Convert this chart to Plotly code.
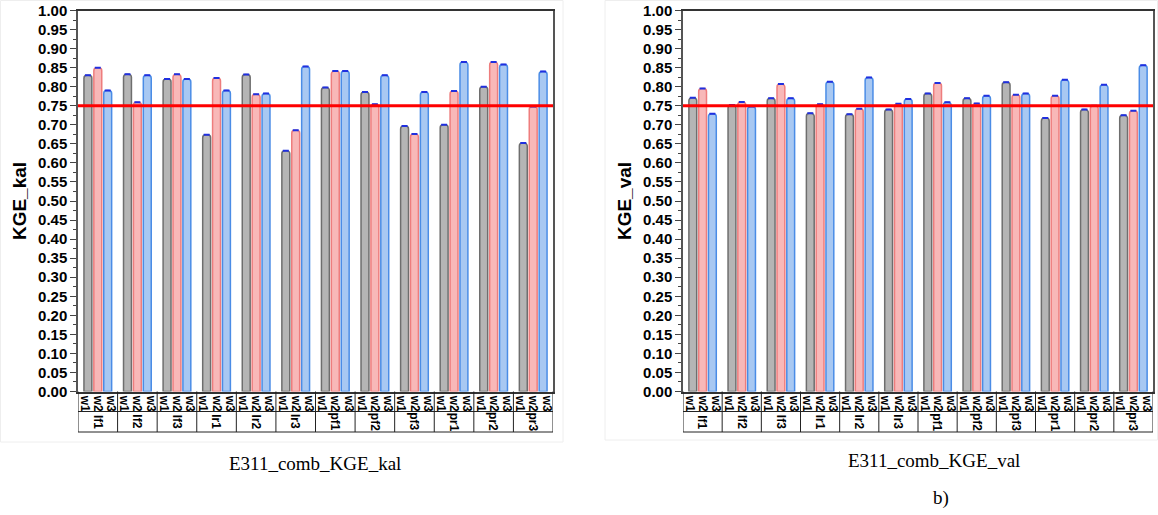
import plotly.graph_objects as go

# KGE values per station group and weighting scheme
groups = ["lf1", "lf2", "lf3", "lr1", "lr2", "lr3", "pf1", "pf2", "pf3", "pr1", "pr2", "pr3"]
weights = ["w1", "w2", "w3"]

kal_w1 = [0.830, 0.833, 0.820, 0.674, 0.832, 0.632, 0.798, 0.786, 0.697, 0.700, 0.800, 0.652]
kal_w2 = [0.850, 0.759, 0.833, 0.823, 0.780, 0.686, 0.841, 0.754, 0.676, 0.789, 0.865, 0.748]
kal_w3 = [0.790, 0.830, 0.820, 0.790, 0.782, 0.853, 0.841, 0.830, 0.786, 0.865, 0.858, 0.840]

val_w1 = [0.771, 0.752, 0.770, 0.730, 0.728, 0.740, 0.782, 0.770, 0.812, 0.718, 0.740, 0.725]
val_w2 = [0.795, 0.760, 0.807, 0.754, 0.742, 0.755, 0.810, 0.756, 0.779, 0.776, 0.750, 0.737]
val_w3 = [0.729, 0.748, 0.770, 0.813, 0.824, 0.768, 0.759, 0.776, 0.782, 0.818, 0.805, 0.856]

threshold = 0.75

W, H = 1158, 515
FONT = "Liberation Sans, Arial, sans-serif"
SERIF = "Liberation Serif, Times New Roman, serif"

fills = ["#b5b5b5", "#f8b8b8", "#a8c8f2"]
edges = ["#6e6e6e", "#ee7d7d", "#4a8ce6"]


def py(pix):
    return 1 - pix / H


def px(pix):
    return pix / W


fig = go.Figure()

panels = [
    dict(series=[kal_w1, kal_w2, kal_w3], x="x", y="y",
         caption="E311_comb_KGE_kal", cap_x=315, cap_y=463),
    dict(series=[val_w1, val_w2, val_w3], x="x2", y="y2",
         caption="E311_comb_KGE_val", cap_x=934, cap_y=460),
]

top_pix, axis_pix, row_pix, bot_pix = 10.5, 391.5, 411.5, 432
ng = len(groups)
# weight labels sit in three equal sub-cells of each group cell
tickvals, ticktext = [], []
for g in range(ng):
    for k in range(3):
        tickvals.append(4 * g + (2 * k + 1) * 4 / 6)
        ticktext.append(weights[k])

shapes, annotations = [], []
for p in panels:
    for k, vals in enumerate(p["series"]):
        xs = [4 * g + 1 + k for g in range(ng)]
        fig.add_trace(go.Bar(
            x=xs, y=vals, width=0.8, xaxis=p["x"], yaxis=p["y"],
            marker=dict(color=fills[k], line=dict(color=edges[k], width=1.5)),
            error_y=dict(type="data", array=[0] * ng, visible=True,
                         color="#1f2fe0", thickness=2, width=3),
            showlegend=False, name=weights[k],
        ))
    xr = p["x"]
    # threshold line
    shapes.append(dict(type="line", xref=f"{xr} domain", yref=p["y"],
                       x0=0, x1=1, y0=threshold, y1=threshold,
                       line=dict(color="#ff0000", width=3), layer="above"))
    # category table below the axis
    for yy in (row_pix, bot_pix):
        shapes.append(dict(type="line", xref=xr, yref="paper", x0=0, x1=4 * ng,
                           y0=py(yy), y1=py(yy), line=dict(color="#222", width=1)))
    for g in range(ng + 1):
        shapes.append(dict(type="line", xref=xr, yref="paper", x0=4 * g, x1=4 * g,
                           y0=py(axis_pix), y1=py(bot_pix), line=dict(color="#222", width=1)))
    for g, name in enumerate(groups):
        annotations.append(dict(x=4 * g + 2, y=py((row_pix + bot_pix) / 2), xref=xr, yref="paper",
                                xanchor="center", yanchor="middle",
                                text=name, textangle=90, showarrow=False,
                                font=dict(family=FONT, size=12, color="#000", weight="bold")))
    annotations.append(dict(x=px(p["cap_x"]), y=py(p["cap_y"]), xref="paper", yref="paper",
                            xanchor="center", yanchor="middle",
                            text=p["caption"], showarrow=False,
                            font=dict(family=SERIF, size=19, color="#000")))

# faint frame around each panel
shapes.append(dict(type="rect", xref="paper", yref="paper", x0=px(0.5), x1=px(563), y0=py(442), y1=py(0.5),
                   line=dict(color="#eeeeee", width=1), layer="below"))
shapes.append(dict(type="rect", xref="paper", yref="paper", x0=px(605), x1=px(1157.5), y0=py(440), y1=py(0.5),
                   line=dict(color="#eeeeee", width=1), layer="below"))

annotations.append(dict(x=px(941), y=py(498), xref="paper", yref="paper", text="b)", showarrow=False,
                        xanchor="center", yanchor="middle",
                        font=dict(family=SERIF, size=19, color="#000")))

yaxis_common = dict(
    range=[0, 1], dtick=0.05, tickformat=".2f", ticks="outside", ticklen=6, tickwidth=1,
    tickcolor="#444", showline=True, linecolor="#555", linewidth=1.5, mirror=True,
    showgrid=False, zeroline=False, automargin=False,
    minor=dict(dtick=0.025, ticks="outside", ticklen=3, tickcolor="#444"),
    tickfont=dict(family=FONT, size=15, color="#000", weight="bold"),
    domain=[py(axis_pix), py(top_pix)],
)
xaxis_common = dict(
    range=[0, 4 * ng], tickvals=tickvals, ticktext=ticktext, tickangle=90, ticks="",
    tickfont=dict(family=FONT, size=12, color="#000", weight="bold"),
    showline=True, linecolor="#333", linewidth=1.5, mirror=True, showgrid=False, zeroline=False,
    fixedrange=True, automargin=False,
)

fig.update_layout(
    width=W, height=H, margin=dict(l=0, r=0, t=0, b=0, autoexpand=False),
    paper_bgcolor="white", plot_bgcolor="white", barmode="overlay",
    xaxis=dict(xaxis_common, domain=[px(78), px(553)], anchor="y"),
    yaxis=dict(yaxis_common, anchor="x",
               title=dict(text="KGE_kal", standoff=6,
                          font=dict(family=FONT, size=19, color="#000", weight="bold"))),
    xaxis2=dict(xaxis_common, domain=[px(683), px(1153)], anchor="y2"),
    yaxis2=dict(yaxis_common, anchor="x2",
                title=dict(text="KGE_val", standoff=6,
                           font=dict(family=FONT, size=19, color="#000", weight="bold"))),
    shapes=shapes, annotations=annotations, barcornerradius=3,
)

fig.write_html("out.html")
